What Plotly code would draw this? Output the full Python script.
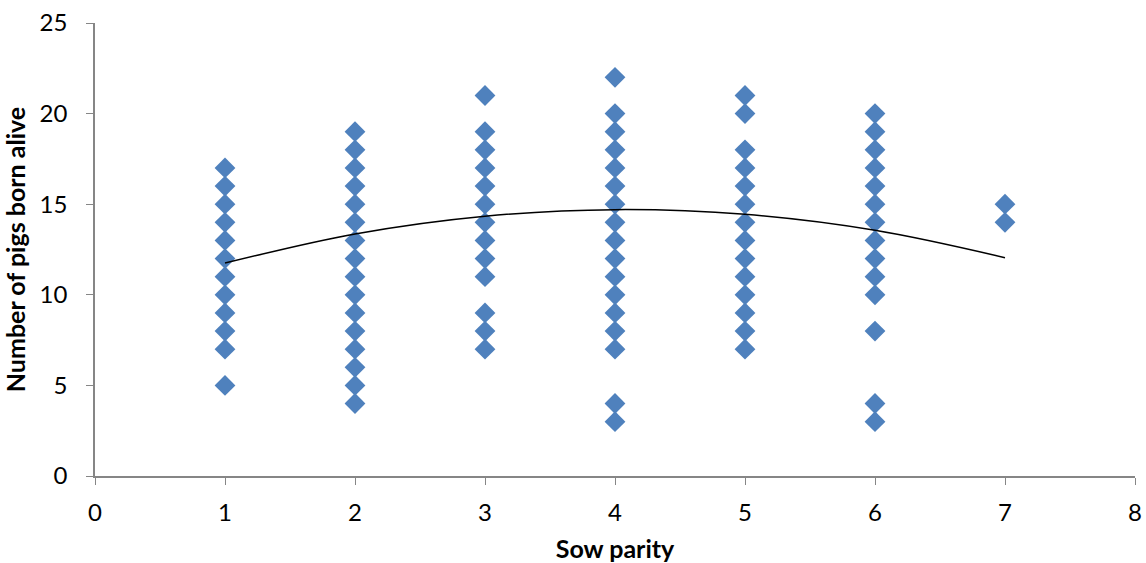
import plotly.graph_objects as go

parity_1 = [5, 7, 8, 9, 10, 11, 12, 13, 14, 15, 16, 17]
parity_2 = [4, 5, 6, 7, 8, 9, 10, 11, 12, 13, 14, 15, 16, 17, 18, 19]
parity_3 = [7, 8, 9, 11, 12, 13, 14, 15, 16, 17, 18, 19, 21]
parity_4 = [3, 4, 7, 8, 9, 10, 11, 12, 13, 14, 15, 16, 17, 18, 19, 20, 22]
parity_5 = [7, 8, 9, 10, 11, 12, 13, 14, 15, 16, 17, 18, 20, 21]
parity_6 = [3, 4, 8, 10, 11, 12, 13, 14, 15, 16, 17, 18, 19, 20]
parity_7 = [14, 15]

trend_x = [1, 2, 3, 4, 5, 6, 7]
trend_y = [11.75, 13.36, 14.34, 14.70, 14.44, 13.56, 12.05]

groups = [parity_1, parity_2, parity_3, parity_4, parity_5, parity_6, parity_7]
xs, ys = [], []
for i, g in enumerate(groups, start=1):
    xs += [i] * len(g)
    ys += g

fig = go.Figure()
fig.add_trace(go.Scatter(x=xs, y=ys, mode="markers",
                         marker=dict(symbol="diamond", size=16, color="#4F81BD",
                                     line=dict(width=0)),
                         showlegend=False))
fig.add_trace(go.Scatter(x=trend_x, y=trend_y, mode="lines", line_shape="spline",
                         line=dict(color="black", width=1.5), showlegend=False))

font = "Lato"
fig.update_layout(
    template="none",
    width=1146, height=563,
    margin=dict(l=95, r=11, t=23, b=87, autoexpand=False),
    plot_bgcolor="white", paper_bgcolor="white",
    font=dict(family=font, size=24, color="black"),
    xaxis=dict(range=[0, 8], tickvals=[0, 1, 2, 3, 4, 5, 6, 7, 8], automargin=False,
               showgrid=False, zeroline=False, showline=True, linecolor="#868686",
               linewidth=1.5, ticks="outside", ticklen=7, tickcolor="#868686",
               tickfont=dict(size=24), ticklabelstandoff=7, ticklabeloverflow="allow",
               title=dict(text="<b>Sow parity</b>", font=dict(size=25), standoff=16)),
    yaxis=dict(range=[0, 25], tickvals=[0, 5, 10, 15, 20, 25], automargin=False,
               showgrid=False, zeroline=False, showline=True, linecolor="#868686",
               linewidth=1.5, ticks="outside", ticklen=7, tickcolor="#868686",
               tickfont=dict(size=24), ticklabelstandoff=14, ticklabeloverflow="allow",
               title=dict(text="<b>Number of pigs born alive</b>", font=dict(size=25), standoff=22)),
)
fig.write_html("out.html", config={"displayModeBar": False},
               post_script="document.body.style.margin='0px';")
